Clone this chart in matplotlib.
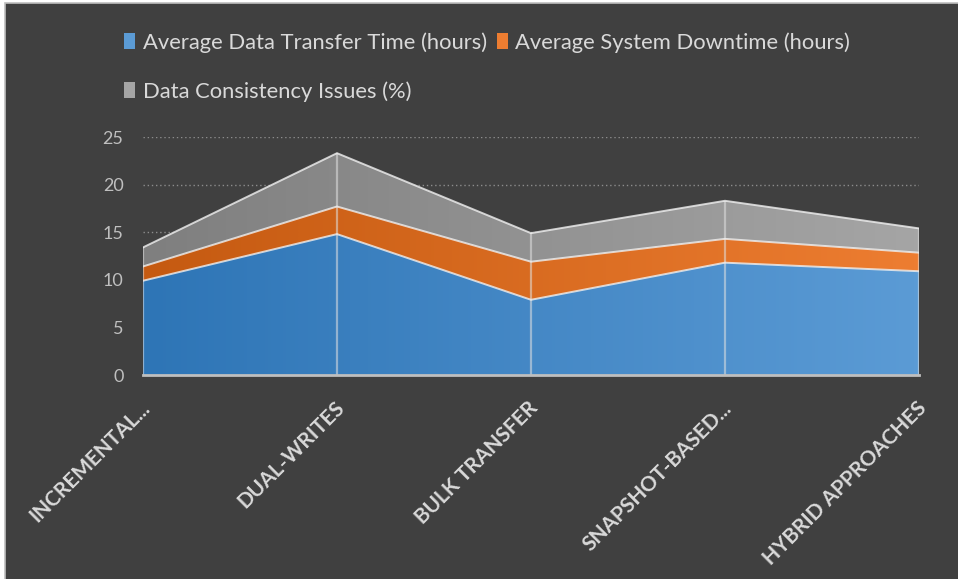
import numpy as np
import matplotlib
matplotlib.use('Agg')
import matplotlib.pyplot as plt
import matplotlib.transforms as mtransforms
from matplotlib.colors import LinearSegmentedColormap
from matplotlib.patches import Rectangle, Patch

# chart data
categories = ['INCREMENTAL...', 'DUAL-WRITES', 'BULK TRANSFER', 'SNAPSHOT-BASED...', 'HYBRID APPROACHES']
transfer_time = [9.9, 14.8, 7.9, 11.8, 10.9]
downtime = [1.5, 2.9, 4.0, 2.5, 1.95]
consistency = [2.0, 5.6, 3.0, 4.0, 2.55]
series_names = ['Average Data Transfer Time (hours)', 'Average System Downtime (hours)',
                'Data Consistency Issues (%)']

# gradient colours (left -> right), like the Excel theme
grads = [('#2E75B6', '#5B9BD5'), ('#C55A11', '#ED7D31'), ('#7F7F7F', '#A5A5A5')]

BG = '#404040'
TXT = '#BFBFBF'
plt.rcParams['font.family'] = ['Lato', 'DejaVu Sans']

fig = plt.figure(figsize=(9.58, 5.79), dpi=100, facecolor='white')
fig.patches.append(Rectangle((5 / 958, -0.01), 1, 1.01 - 3 / 579, transform=fig.transFigure,
                             facecolor=BG, edgecolor='#BFBFBF', linewidth=1.2, zorder=-5))

ax = fig.add_axes([143 / 958, 1 - 375 / 579, (919 - 143) / 958, (375 - 137) / 579])
ax.set_zorder(1)
ax.patch.set_alpha(0)

x = np.arange(len(categories))
layers = [transfer_time, downtime, consistency]
bottom = np.zeros(len(x))
grad = np.linspace(0, 1, 256).reshape(1, -1)
tops = []
for vals, (c0, c1) in zip(layers, grads):
    top = bottom + np.array(vals)
    poly = ax.fill_between(x, bottom, top, facecolor='none', edgecolor='none', zorder=2)
    cmap = LinearSegmentedColormap.from_list('g', [c0, c1])
    im = ax.imshow(grad, cmap=cmap, aspect='auto', extent=[x[0], x[-1], 0, 25],
                   origin='lower', zorder=2, interpolation='bilinear')
    im.set_clip_path(poly.get_paths()[0], transform=ax.transData)
    tops.append(top)
    bottom = top

# light edges between the stacked layers
for top in tops:
    ax.plot(x, top, color='#F2F2F2', alpha=0.8, linewidth=1.4, zorder=4,
            solid_joinstyle='miter')
ax.vlines(x, 0, tops[-1], color='#E0E0E0', alpha=0.55, linewidth=1.6, zorder=3)

ax.set_xlim(x[0], x[-1])
ax.set_ylim(0, 25)
ax.set_yticks(range(0, 26, 5))
ax.yaxis.grid(True, color='#8C8C8C', linestyle=(0, (1, 2)), linewidth=1.0, zorder=1)
ax.set_axisbelow(True)
for s in ['top', 'right', 'left']:
    ax.spines[s].set_visible(False)
ax.spines['bottom'].set_color('#BFBFBF')
ax.spines['bottom'].set_linewidth(2)
ax.spines['bottom'].set_zorder(5)
ax.tick_params(axis='y', length=0, pad=14, labelcolor=TXT, labelsize=13)
ax.tick_params(axis='x', length=0, pad=0, labelcolor='#D9D9D9')
ax.set_xticks(x)
ax.set_xticklabels(categories, rotation=45, ha='right', va='center', rotation_mode='anchor',
                   fontsize=15, fontweight='bold')
shift = mtransforms.ScaledTranslation(4 / 100, -30 / 100, fig.dpi_scale_trans)
for lbl in ax.get_xticklabels():
    lbl.set_transform(lbl.get_transform() + shift)

# legend laid out like Excel (two items on the first row, one on the second)
handles = [Patch(facecolor=c1, edgecolor='none') for c0, c1 in grads]
order = [0, 2, 1]
leg = fig.legend([handles[i] for i in order], [series_names[i] for i in order],
                 ncol=2, loc='upper left', bbox_to_anchor=(124 / 958, 1 - 32 / 579),
                 frameon=False, fontsize=15.8, labelcolor='#D9D9D9', handlelength=0.5,
                 handleheight=0.7, handletextpad=0.35, columnspacing=0.45,
                 labelspacing=1.3, borderaxespad=0, borderpad=0)

fig.savefig('out.png', dpi=100, facecolor='white')
